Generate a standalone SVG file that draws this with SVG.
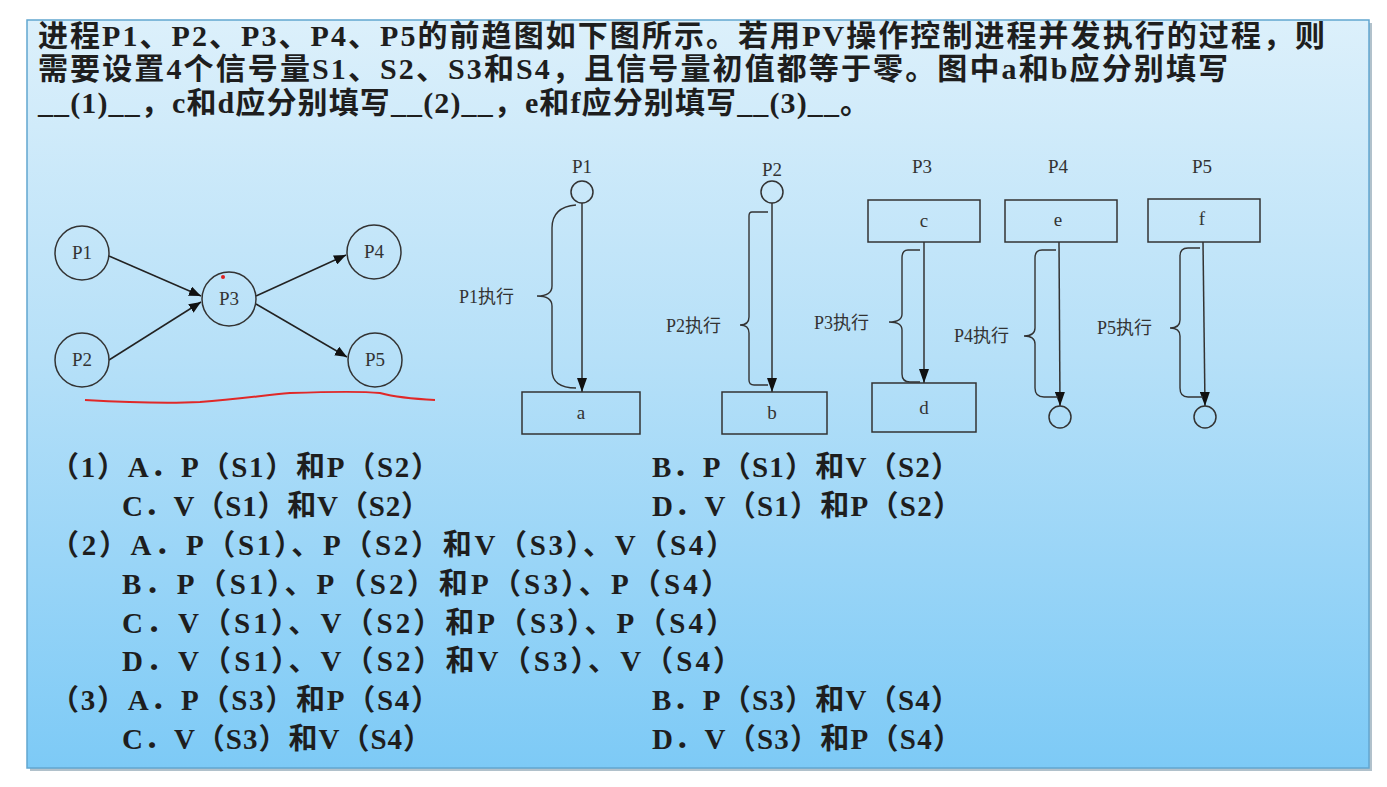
<svg xmlns="http://www.w3.org/2000/svg" width="1387" height="787" viewBox="0 0 1387 787">
<defs>
<linearGradient id="bg" x1="0" y1="0" x2="0" y2="1">
<stop offset="0" stop-color="#dcf0fb"/>
<stop offset="0.45" stop-color="#b6e0f8"/>
<stop offset="1" stop-color="#7dcaf6"/>
</linearGradient>
<marker id="ah" viewBox="0 0 12 10" refX="12" refY="5" markerWidth="12" markerHeight="10" markerUnits="userSpaceOnUse" orient="auto">
<path d="M0,0 L12,5 L0,10 Z" fill="#111"/>
</marker>
<marker id="ah3" viewBox="0 0 14 10" refX="14" refY="5" markerWidth="14" markerHeight="10" markerUnits="userSpaceOnUse" orient="auto">
<path d="M0,0 L14,5 L0,10 Z" fill="#111"/>
</marker>
</defs>
<style>
.q{font-family:"Liberation Serif","Noto Sans CJK SC",serif;font-weight:bold;font-size:30px;fill:#1e1e1e}
.o{font-family:"Liberation Serif","Noto Sans CJK SC",serif;font-weight:bold;font-size:29px;fill:#1e1e1e}
.t{font-family:"Liberation Serif","Noto Sans CJK SC",serif;font-size:19px;fill:#333;text-anchor:middle}
.l{font-family:"Liberation Serif","Noto Sans CJK SC",serif;font-size:18px;fill:#333}
.n{fill:none;stroke:#333;stroke-width:1.5}
.b{fill:none;stroke:#333;stroke-width:1.4}
.e{fill:none;stroke:#222;stroke-width:1.5}
</style>
<rect x="0" y="0" width="1387" height="787" fill="#ffffff"/>
<rect x="30" y="23" width="1342" height="748" fill="#7d97a8" opacity="0.6"/>
<rect x="27" y="20" width="1342" height="748" fill="url(#bg)" stroke="#62a6d0" stroke-width="1.5"/>

<g id="question">
<text class="q" x="38" y="46" textLength="1287">进程P1、P2、P3、P4、P5的前趋图如下图所示。若用PV操作控制进程并发执行的过程，则</text>
<text class="q" x="38" y="79" textLength="1190">需要设置4个信号量S1、S2、S3和S4，且信号量初值都等于零。图中a和b应分别填写</text>
<text class="q" x="38" y="113" textLength="832">__(1)__，c和d应分别填写__(2)__，e和f应分别填写__(3)__。</text>
</g>

<g id="graph-connectors">
<line class="e" x1="109" y1="256" x2="201" y2="296" marker-end="url(#ah)"/>
<line class="e" x1="109" y1="360" x2="201" y2="302" marker-end="url(#ah)"/>
<line class="e" x1="256" y1="296" x2="346" y2="255" marker-end="url(#ah)"/>
<line class="e" x1="256" y1="304" x2="347" y2="357" marker-end="url(#ah)"/>
</g>
<g id="g-P1"><circle class="n" cx="82" cy="253" r="27"/><text class="t" x="82" y="259">P1</text></g>
<g id="g-P2"><circle class="n" cx="82" cy="360" r="27"/><text class="t" x="82" y="366">P2</text></g>
<g id="g-P3"><circle class="n" cx="229" cy="299" r="27"/><text class="t" x="229" y="305">P3</text><circle cx="223" cy="277" r="2" fill="#e02020"/></g>
<g id="g-P4"><circle class="n" cx="374" cy="252" r="27"/><text class="t" x="374" y="258">P4</text></g>
<g id="g-P5"><circle class="n" cx="375" cy="360" r="27"/><text class="t" x="375" y="366">P5</text></g>
<path d="M85,400 C120,402 160,404 200,402 C240,399 265,395 290,393 C320,392 360,391 380,393 C395,397 415,399 435,400" fill="none" stroke="#e02828" stroke-width="2"/>

<g id="proc-connectors">
<line class="n" x1="582" y1="203" x2="582" y2="392" marker-end="url(#ah3)"/>
<line class="n" x1="772" y1="203" x2="772" y2="392" marker-end="url(#ah3)"/>
<line class="n" x1="924" y1="242" x2="924" y2="383" marker-end="url(#ah3)"/>
<line class="n" x1="1059" y1="242" x2="1060" y2="406" marker-end="url(#ah3)"/>
<line class="n" x1="1203" y1="242" x2="1205" y2="406" marker-end="url(#ah3)"/>
</g>

<g id="proc-P1">
<text class="t" x="582" y="173">P1</text>
<circle class="n" cx="582" cy="192" r="11"/>
<path class="b" d="M576,205 Q552,207 552,228 L552,286 Q552,296 537,296 Q552,296 552,306 L552,370 Q552,388 576,388"/>
<text class="l" x="459" y="303">P1执行</text>
<rect class="n" x="522" y="392" width="118" height="42"/>
<text class="t" x="581" y="419">a</text>
</g>
<g id="proc-P2">
<text class="t" x="772" y="176">P2</text>
<circle class="n" cx="772" cy="192" r="11"/>
<path class="b" d="M768,212 L752,212 Q749,212 749,216 L749,317 Q749,325 740,325 Q749,325 749,333 L749,380 Q749,385 754,385 L768,385"/>
<text class="l" x="666" y="332">P2执行</text>
<rect class="n" x="722" y="392" width="105" height="42"/>
<text class="t" x="772" y="419">b</text>
</g>
<g id="proc-P3">
<text class="t" x="922" y="173">P3</text>
<rect class="n" x="868" y="200" width="112" height="42"/>
<text class="t" x="924" y="227">c</text>
<path class="b" d="M920,250 L908,250 Q902,250 902,258 L902,314 Q902,322 889,322 Q902,322 902,330 L902,374 Q902,382 910,382 L920,382"/>
<text class="l" x="814" y="329">P3执行</text>
<rect class="n" x="872" y="383" width="104" height="49"/>
<text class="t" x="924" y="414">d</text>
</g>
<g id="proc-P4">
<text class="t" x="1058" y="173">P4</text>
<rect class="n" x="1005" y="200" width="112" height="42"/>
<text class="t" x="1058" y="226">e</text>
<path class="b" d="M1056,250 L1042,250 Q1035,250 1035,258 L1035,328 Q1035,336 1024,336 Q1035,336 1035,344 L1035,388 Q1035,397 1044,397 L1058,397"/>
<text class="l" x="954" y="342">P4执行</text>
<circle class="n" cx="1060" cy="417" r="11"/>
</g>
<g id="proc-P5">
<text class="t" x="1202" y="173">P5</text>
<rect class="n" x="1148" y="199" width="112" height="43"/>
<text class="t" x="1202" y="225">f</text>
<path class="b" d="M1200,248 L1188,248 Q1180,248 1180,256 L1180,320 Q1180,328 1170,328 Q1180,328 1180,336 L1180,388 Q1180,397 1188,397 L1203,397"/>
<text class="l" x="1097" y="334">P5执行</text>
<circle class="n" cx="1205" cy="417" r="11"/>
</g>

<g id="options">
<text class="o" x="50" y="477" textLength="390">（1）A．P（S1）和P（S2）</text>
<text class="o" x="652" y="477" textLength="308">B．P（S1）和V（S2）</text>
<text class="o" x="122" y="516" textLength="308">C．V（S1）和V（S2）</text>
<text class="o" x="652" y="516" textLength="310">D．V（S1）和P（S2）</text>
<text class="o" x="50" y="555" textLength="685">（2）A．P（S1）、P（S2）和V（S3）、V（S4）</text>
<text class="o" x="122" y="594" textLength="608">B．P（S1）、P（S2）和P（S3）、P（S4）</text>
<text class="o" x="122" y="633" textLength="613">C．V（S1）、V（S2）和P（S3）、P（S4）</text>
<text class="o" x="122" y="671" textLength="620">D．V（S1）、V（S2）和V（S3）、V（S4）</text>
<text class="o" x="50" y="710" textLength="390">（3）A．P（S3）和P（S4）</text>
<text class="o" x="652" y="710" textLength="308">B．P（S3）和V（S4）</text>
<text class="o" x="122" y="749" textLength="310">C．V（S3）和V（S4）</text>
<text class="o" x="652" y="749" textLength="310">D．V（S3）和P（S4）</text>
</g>
</svg>
